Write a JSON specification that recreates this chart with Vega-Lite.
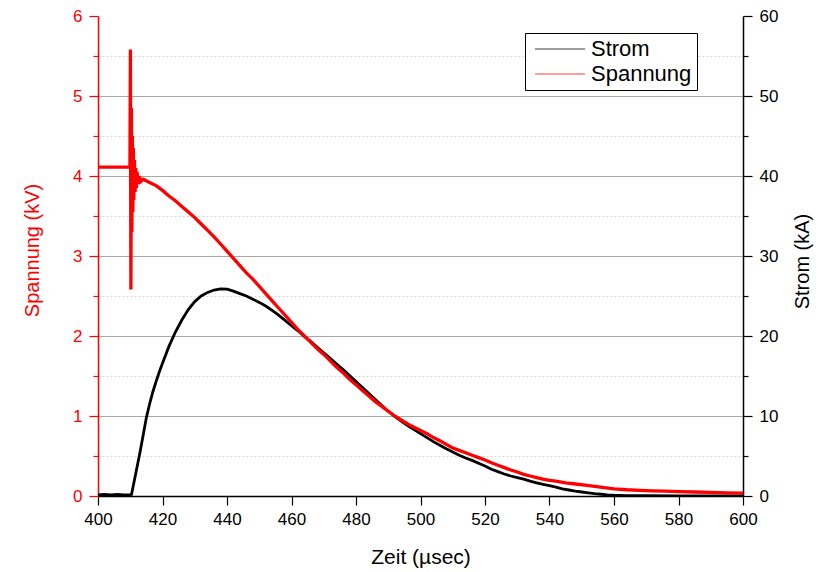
{
  "$schema": "https://vega.github.io/schema/vega-lite/v6.json",
  "width": 645,
  "height": 480,
  "autosize": {"type": "none"},
  "padding": {"left": 98, "top": 16, "right": 84, "bottom": 76},
  "background": "white",
  "config": {
    "view": {"stroke": null},
    "font": "Liberation Sans",
    "axis": {"labelFont": "Liberation Sans", "titleFont": "Liberation Sans", "titleFontWeight": "normal", "labelFontSize": 17, "titleFontSize": 20, "domainWidth": 1.5, "tickWidth": 1.2, "labelFlush": false}
  },
  "datasets": {
    "strom": [
      {"t": 400, "I": 0.15}, {"t": 402, "I": 0.2}, {"t": 404, "I": 0.15}, {"t": 406, "I": 0.2}, {"t": 408, "I": 0.15}, {"t": 410, "I": 0.15}, {"t": 410.4, "I": 0.2},
      {"t": 411, "I": 1.4}, {"t": 412, "I": 3.4}, {"t": 413, "I": 5.4}, {"t": 414, "I": 7.6}, {"t": 415, "I": 9.8}, {"t": 416, "I": 11.5}, {"t": 417, "I": 13.0}, {"t": 418, "I": 14.3}, {"t": 419, "I": 15.5}, {"t": 420, "I": 16.6},
      {"t": 422, "I": 18.7}, {"t": 424, "I": 20.5}, {"t": 426, "I": 22.0}, {"t": 428, "I": 23.3}, {"t": 430, "I": 24.3}, {"t": 432, "I": 25.0}, {"t": 434, "I": 25.45}, {"t": 436, "I": 25.75}, {"t": 438, "I": 25.9}, {"t": 440, "I": 25.85},
      {"t": 442, "I": 25.6}, {"t": 444, "I": 25.3}, {"t": 446, "I": 25.0}, {"t": 448, "I": 24.6}, {"t": 450, "I": 24.2}, {"t": 452, "I": 23.75}, {"t": 454, "I": 23.2}, {"t": 456, "I": 22.6}, {"t": 458, "I": 21.95}, {"t": 460, "I": 21.3},
      {"t": 462, "I": 20.65}, {"t": 464, "I": 19.95}, {"t": 466, "I": 19.3}, {"t": 468, "I": 18.6}, {"t": 470, "I": 17.9}, {"t": 472, "I": 17.2}, {"t": 474, "I": 16.5}, {"t": 476, "I": 15.8}, {"t": 478, "I": 15.05}, {"t": 480, "I": 14.3},
      {"t": 482, "I": 13.55}, {"t": 484, "I": 12.8}, {"t": 486, "I": 12.05}, {"t": 488, "I": 11.3}, {"t": 490, "I": 10.6}, {"t": 492, "I": 9.95}, {"t": 494, "I": 9.35}, {"t": 496, "I": 8.8}, {"t": 498, "I": 8.3}, {"t": 500, "I": 7.8},
      {"t": 502, "I": 7.3}, {"t": 504, "I": 6.8}, {"t": 506, "I": 6.35}, {"t": 508, "I": 5.9}, {"t": 510, "I": 5.5}, {"t": 512, "I": 5.1}, {"t": 514, "I": 4.75}, {"t": 516, "I": 4.45}, {"t": 518, "I": 4.1}, {"t": 520, "I": 3.75},
      {"t": 522, "I": 3.35}, {"t": 524, "I": 3.05}, {"t": 526, "I": 2.75}, {"t": 528, "I": 2.5}, {"t": 530, "I": 2.3}, {"t": 532, "I": 2.1}, {"t": 534, "I": 1.85}, {"t": 536, "I": 1.65}, {"t": 538, "I": 1.45}, {"t": 540, "I": 1.3},
      {"t": 542, "I": 1.1}, {"t": 544, "I": 0.9}, {"t": 546, "I": 0.75}, {"t": 548, "I": 0.6}, {"t": 550, "I": 0.5}, {"t": 552, "I": 0.4}, {"t": 554, "I": 0.3}, {"t": 556, "I": 0.22}, {"t": 558, "I": 0.15}, {"t": 560, "I": 0.1},
      {"t": 564, "I": 0.05}, {"t": 570, "I": 0.03}, {"t": 580, "I": 0.02}, {"t": 590, "I": 0.02}, {"t": 600, "I": 0.02}
    ],
    "spannung": [
      {"t": 400, "U": 4.11}, {"t": 404, "U": 4.11}, {"t": 408, "U": 4.11}, {"t": 409.9, "U": 4.11},
      {"t": 410.05, "U": 5.58}, {"t": 410.2, "U": 2.58}, {"t": 410.35, "U": 4.85}, {"t": 410.5, "U": 3.3}, {"t": 410.65, "U": 4.5}, {"t": 410.8, "U": 3.55}, {"t": 410.95, "U": 4.35}, {"t": 411.1, "U": 3.7},
      {"t": 411.3, "U": 4.2}, {"t": 411.5, "U": 3.8}, {"t": 411.7, "U": 4.1}, {"t": 411.9, "U": 3.85}, {"t": 412.1, "U": 4.05}, {"t": 412.4, "U": 3.9}, {"t": 412.8, "U": 4.0}, {"t": 413.2, "U": 3.93},
      {"t": 414, "U": 3.96}, {"t": 416, "U": 3.92}, {"t": 418, "U": 3.88}, {"t": 420, "U": 3.82}, {"t": 422, "U": 3.75}, {"t": 424, "U": 3.69}, {"t": 426, "U": 3.62}, {"t": 428, "U": 3.55}, {"t": 430, "U": 3.48},
      {"t": 432, "U": 3.4}, {"t": 434, "U": 3.32}, {"t": 436, "U": 3.24}, {"t": 438, "U": 3.15}, {"t": 440, "U": 3.06}, {"t": 442, "U": 2.97}, {"t": 444, "U": 2.88}, {"t": 446, "U": 2.79}, {"t": 448, "U": 2.71}, {"t": 450, "U": 2.62},
      {"t": 452, "U": 2.53}, {"t": 454, "U": 2.44}, {"t": 456, "U": 2.35}, {"t": 458, "U": 2.26}, {"t": 460, "U": 2.17}, {"t": 462, "U": 2.08}, {"t": 464, "U": 2.0}, {"t": 466, "U": 1.92}, {"t": 468, "U": 1.84}, {"t": 470, "U": 1.77},
      {"t": 472, "U": 1.69}, {"t": 474, "U": 1.61}, {"t": 476, "U": 1.54}, {"t": 478, "U": 1.46}, {"t": 480, "U": 1.39}, {"t": 482, "U": 1.32}, {"t": 484, "U": 1.25}, {"t": 486, "U": 1.18}, {"t": 488, "U": 1.12}, {"t": 490, "U": 1.06},
      {"t": 492, "U": 1.0}, {"t": 494, "U": 0.95}, {"t": 496, "U": 0.9}, {"t": 498, "U": 0.86}, {"t": 500, "U": 0.82}, {"t": 502, "U": 0.78}, {"t": 504, "U": 0.73}, {"t": 506, "U": 0.69}, {"t": 508, "U": 0.645}, {"t": 510, "U": 0.6},
      {"t": 512, "U": 0.57}, {"t": 514, "U": 0.54}, {"t": 516, "U": 0.51}, {"t": 518, "U": 0.48}, {"t": 520, "U": 0.45}, {"t": 522, "U": 0.415}, {"t": 524, "U": 0.385}, {"t": 526, "U": 0.355}, {"t": 528, "U": 0.325}, {"t": 530, "U": 0.3},
      {"t": 532, "U": 0.27}, {"t": 534, "U": 0.25}, {"t": 536, "U": 0.23}, {"t": 538, "U": 0.21}, {"t": 540, "U": 0.195}, {"t": 542, "U": 0.185}, {"t": 545, "U": 0.165}, {"t": 548, "U": 0.15}, {"t": 551, "U": 0.135}, {"t": 554, "U": 0.12},
      {"t": 557, "U": 0.105}, {"t": 560, "U": 0.09}, {"t": 564, "U": 0.078}, {"t": 568, "U": 0.07}, {"t": 572, "U": 0.065}, {"t": 576, "U": 0.06}, {"t": 580, "U": 0.055}, {"t": 585, "U": 0.05}, {"t": 590, "U": 0.045}, {"t": 595, "U": 0.04}, {"t": 600, "U": 0.035}
    ]
  },
  "layer": [
    {
      "data": {"name": "strom"},
      "mark": {"type": "line", "strokeWidth": 2.8, "clip": true},
      "encoding": {
        "x": {
          "field": "t", "type": "quantitative",
          "scale": {"domain": [400, 600], "nice": false, "zero": false},
          "axis": {
            "values": [400, 410, 420, 430, 440, 450, 460, 470, 480, 490, 500, 510, 520, 530, 540, 550, 560, 570, 580, 590, 600],
            "labelExpr": "datum.value % 20 === 0 ? '' + datum.value : ''",
            "tickSize": {"condition": {"test": "datum.value % 20 === 0", "value": 9}, "value": 5},
            "grid": true,
            "gridColor": "#cfcfcf",
            "gridOpacity": {"condition": {"test": "datum.value % 20 === 10", "value": 1}, "value": 0},
            "gridDash": [2, 2],
            "domainColor": "black", "tickColor": "black", "labelColor": "black", "titleColor": "black",
            "labelPadding": 6, "labelOverlap": false,
            "title": "Zeit (µsec)", "titleFontSize": 21,
            "titleX": 322.5, "titleY": 61, "titleBaseline": "middle", "titleAlign": "center"
          }
        },
        "y": {
          "field": "I", "type": "quantitative",
          "scale": {"domain": [0, 60], "nice": false},
          "axis": {
            "orient": "right",
            "values": [0, 5, 10, 15, 20, 25, 30, 35, 40, 45, 50, 55, 60],
            "labelExpr": "datum.value % 10 === 0 ? '' + datum.value : ''",
            "tickSize": {"condition": {"test": "datum.value % 10 === 0", "value": 9}, "value": 5},
            "grid": false,
            "domainColor": "black", "tickColor": "black", "labelColor": "black", "titleColor": "black",
            "labelPadding": 7, "labelOverlap": false,
            "title": "Strom (kA)",
            "titleAngle": 270, "titleX": 59, "titleY": 245, "titleBaseline": "middle", "titleAlign": "center"
          }
        },
        "color": {
          "datum": "Strom",
          "scale": {"domain": ["Strom", "Spannung"], "range": ["black", "red"]},
          "legend": {
            "title": null, "orient": "none", "legendX": 427, "legendY": 17,
            "strokeColor": "black", "fillColor": "white", "padding": 5,
            "symbolType": "M-1.2,0H8.8", "symbolSize": 100, "symbolStrokeWidth": 1.5, "symbolOpacity": 0.5,
            "labelFontSize": 22, "labelFont": "Liberation Sans", "labelColor": "black", "labelOffset": 39, "rowPadding": 3
          }
        }
      }
    },
    {
      "data": {"name": "spannung"},
      "mark": {"type": "line", "strokeWidth": 3.3, "clip": true},
      "encoding": {
        "x": {"field": "t", "type": "quantitative"},
        "y": {
          "field": "U", "type": "quantitative",
          "scale": {"domain": [0, 6], "nice": false},
          "axis": {
            "orient": "left",
            "values": [0, 0.5, 1, 1.5, 2, 2.5, 3, 3.5, 4, 4.5, 5, 5.5, 6],
            "labelExpr": "datum.value % 1 === 0 ? '' + datum.value : ''",
            "tickSize": {"condition": {"test": "datum.value % 1 === 0", "value": 9}, "value": 5},
            "grid": true,
            "gridColor": {"condition": {"test": "datum.value % 1 !== 0", "value": "#d6d6d6"}, "value": "#a8a8a8"},
            "gridDash": {"condition": {"test": "datum.value % 1 !== 0", "value": [2, 2]}, "value": []},
            "gridOpacity": {"condition": {"test": "datum.value === 0 || datum.value === 6", "value": 0}, "value": 1},
            "domainColor": "red", "tickColor": "red", "labelColor": "red", "titleColor": "red",
            "labelPadding": 7, "labelOverlap": false,
            "title": "Spannung (kV)",
            "titleAngle": 270, "titleX": -66, "titleY": 234, "titleBaseline": "middle", "titleAlign": "center"
          }
        },
        "color": {"datum": "Spannung"}
      }
    }
  ],
  "resolve": {"scale": {"y": "independent"}}
}
